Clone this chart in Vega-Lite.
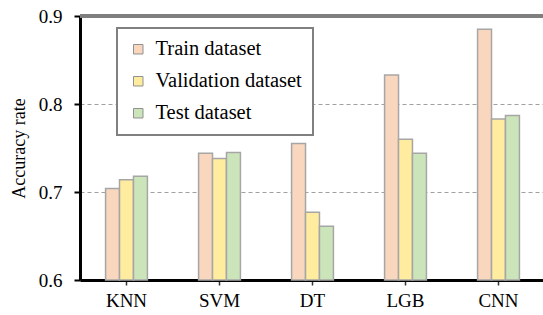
{
  "$schema": "https://vega.github.io/schema/vega-lite/v6.json",
  "width": 465,
  "height": 264,
  "padding": {"left": 10, "top": 7, "right": 0, "bottom": 5},
  "config": {
    "font": "Liberation Serif, Times New Roman, serif",
    "axis": {"labelFont": "Liberation Serif, Times New Roman, serif", "titleFont": "Liberation Serif, Times New Roman, serif"},
    "legend": {"labelFont": "Liberation Serif, Times New Roman, serif"},
    "view": {"stroke": null}
  },
  "data": {
    "values": [
      {"model": "KNN", "dataset": "Train dataset", "accuracy": 0.704},
      {"model": "KNN", "dataset": "Validation dataset", "accuracy": 0.714},
      {"model": "KNN", "dataset": "Test dataset", "accuracy": 0.718},
      {"model": "SVM", "dataset": "Train dataset", "accuracy": 0.744},
      {"model": "SVM", "dataset": "Validation dataset", "accuracy": 0.738},
      {"model": "SVM", "dataset": "Test dataset", "accuracy": 0.745},
      {"model": "DT", "dataset": "Train dataset", "accuracy": 0.755},
      {"model": "DT", "dataset": "Validation dataset", "accuracy": 0.677},
      {"model": "DT", "dataset": "Test dataset", "accuracy": 0.661},
      {"model": "LGB", "dataset": "Train dataset", "accuracy": 0.833},
      {"model": "LGB", "dataset": "Validation dataset", "accuracy": 0.760},
      {"model": "LGB", "dataset": "Test dataset", "accuracy": 0.744},
      {"model": "CNN", "dataset": "Train dataset", "accuracy": 0.885},
      {"model": "CNN", "dataset": "Validation dataset", "accuracy": 0.783},
      {"model": "CNN", "dataset": "Test dataset", "accuracy": 0.787}
    ]
  },
  "layer": [
    {
      "mark": {"type": "bar", "stroke": "#a6a6a6", "strokeWidth": 1.5},
      "encoding": {
        "x": {
          "field": "model",
          "type": "nominal",
          "sort": ["KNN", "SVM", "DT", "LGB", "CNN"],
          "scale": {"paddingInner": 0.55, "paddingOuter": 0.275},
          "axis": {
            "title": null,
            "labelAngle": 0,
            "labelFontSize": 19,
            "labelColor": "#000000",
            "labelPadding": 6,
            "domainColor": "#000000",
            "domainWidth": 3,
            "tickColor": "#333333",
            "tickWidth": 1.5,
            "tickSize": 5
          }
        },
        "xOffset": {
          "field": "dataset",
          "type": "nominal",
          "sort": ["Train dataset", "Validation dataset", "Test dataset"],
          "scale": {"paddingInner": 0, "paddingOuter": 0}
        },
        "y": {
          "field": "accuracy",
          "type": "quantitative",
          "scale": {"domain": [0.6, 0.9], "zero": false, "clamp": true},
          "axis": {
            "title": "Accuracy rate",
            "titleFontSize": 18,
            "titleFontWeight": "normal",
            "titleColor": "#000000",
            "titlePadding": 10,
            "values": [0.6, 0.7, 0.8, 0.9],
            "format": ".1f",
            "labelFontSize": 19,
            "labelColor": "#000000",
            "labelPadding": 12,
            "domainColor": "#000000",
            "domainWidth": 3,
            "tickColor": "#000000",
            "tickWidth": 2,
            "tickSize": 6,
            "grid": true,
            "gridColor": "#a0a0a0",
            "gridWidth": 1,
            "gridDash": [4, 3]
          }
        },
        "y2": {"datum": 0.6},
        "fill": {
          "field": "dataset",
          "type": "nominal",
          "sort": ["Train dataset", "Validation dataset", "Test dataset"],
          "scale": {
            "domain": ["Train dataset", "Validation dataset", "Test dataset"],
            "range": ["#f9d6be", "#ffec9e", "#cce4ba"]
          },
          "legend": {
            "title": null,
            "orient": "none",
            "legendX": 37,
            "legendY": 12,
            "symbolType": "square",
            "symbolSize": 90,
            "symbolStrokeColor": "#909090",
            "symbolStrokeWidth": 1,
            "labelFontSize": 20.5,
            "labelColor": "#000000",
            "labelOffset": 7,
            "rowPadding": 11,
            "padding": 11,
            "strokeColor": "#808080",
            "fillColor": "#ffffff",
            "cornerRadius": 0,
            "encode": {"legend": {"update": {"strokeWidth": {"value": 2}}}}
          }
        }
      }
    },
    {
      "mark": {"type": "rule", "color": "#7f7f7f", "strokeWidth": 2.5},
      "encoding": {"y": {"datum": 0.9}}
    }
  ]
}
